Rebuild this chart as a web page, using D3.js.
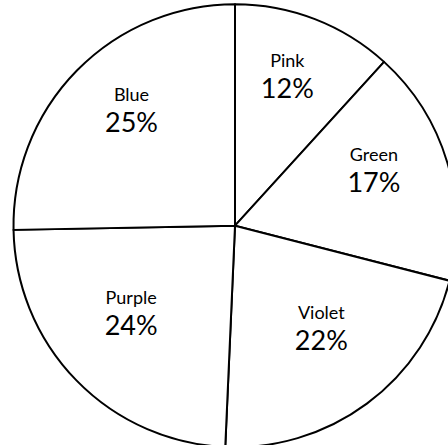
<!DOCTYPE html>
<html>
<head>
<meta charset="utf-8">
<script src="https://cdn.jsdelivr.net/npm/d3@7"></script>
<style>
  html, body { margin: 0; padding: 0; background: #fff; overflow: hidden; }
  svg { display: block; }
</style>
</head>
<body>
<script>
const categories = ["Pink", "Green", "Violet", "Purple", "Blue"];
const values = [11.75, 17.25, 21.7, 24.0, 25.3];

const W = 448, H = 445;
const cx = 235, cy = 225.7, R = 221.5, labelR = 145;

const svg = d3.select("body").append("svg").attr("width", W).attr("height", H);
svg.append("rect").attr("width", W).attr("height", H).attr("fill", "#fff");

const data = categories.map((c, i) => ({ name: c, value: values[i] }));
const total = d3.sum(values);
const pie = d3.pie().value(d => d.value).sort(null).startAngle(0).endAngle(2 * Math.PI);
const arcs = pie(data);
const arc = d3.arc().innerRadius(0).outerRadius(R);
const labelArc = d3.arc().innerRadius(labelR).outerRadius(labelR);

const g = svg.append("g").attr("transform", `translate(${cx},${cy})`);
g.selectAll("path.slice").data(arcs).join("path")
  .attr("class", "slice")
  .attr("d", arc)
  .attr("fill", "#fff")
  .attr("stroke", "#000")
  .attr("stroke-width", 2)
  .attr("stroke-linejoin", "round");

const font = "Lato, 'Open Sans', sans-serif";
const lab = g.selectAll("g.lab").data(arcs).join("g")
  .attr("class", "lab")
  .attr("transform", d => { const [x, y] = labelArc.centroid(d); return `translate(${x},${y})`; });
lab.append("text")
  .attr("text-anchor", "middle")
  .attr("y", -23)
  .attr("font-family", font)
  .attr("font-size", 18)
  .attr("fill", "#000")
  .text(d => d.data.name);
lab.append("text")
  .attr("text-anchor", "middle")
  .attr("y", 8)
  .attr("font-family", font)
  .attr("font-size", 27)
  .attr("fill", "#000")
  .text(d => Math.round(d.data.value / total * 100) + "%");
</script>
</body>
</html>
